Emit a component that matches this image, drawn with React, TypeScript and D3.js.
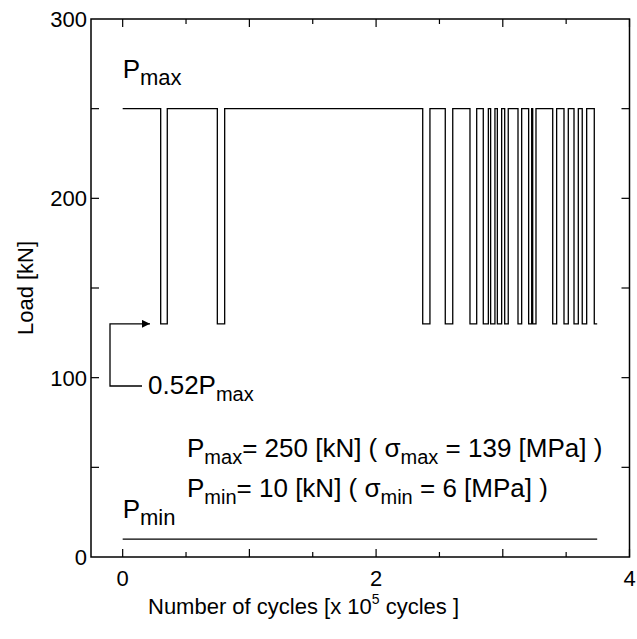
import React from "react";
import * as d3 from "d3";

// Variable-amplitude loading history: constant Pmax blocks with short drops to 0.52·Pmax
const pMax = 250;
const pMin = 10;
const pLow = 130;
const historyStart = 0;
const historyEnd = 3.745;
const finalDrop = 3.722;
const dipStarts = [0.3, 0.747, 2.368, 2.546, 2.741, 2.846, 2.904, 2.957, 3.015, 3.12, 3.204, 3.236, 3.394, 3.483, 3.562, 3.627];
const dipEnds = [0.352, 0.805, 2.425, 2.605, 2.794, 2.886, 2.938, 2.991, 3.043, 3.149, 3.228, 3.262, 3.425, 3.517, 3.596, 3.662];

const xTicksMajor = [0, 1, 2, 3, 4];
const xTickLabels = [0, 2, 4];
const xTicksMinor = [-0.5, 0.5, 1.5, 2.5, 3.5];
const yTicks = [50, 100, 150, 200, 250];
const yTickLabels = [0, 100, 200, 300];

const W = 637;
const H = 639;
const left = 91;
const right = 629.5;
const top = 19;
const bottom = 557;
const FONT = "'Liberation Sans', Arial, sans-serif";

export default function App() {
  const x = d3.scaleLinear().domain([-0.25, 4]).range([left, right]);
  const y = d3.scaleLinear().domain([0, 300]).range([bottom, top]);

  const pts: [number, number][] = [[historyStart, pMax]];
  dipStarts.forEach((a, i) => {
    const b = dipEnds[i];
    pts.push([a, pMax], [a, pLow], [b, pLow], [b, pMax]);
  });
  pts.push([finalDrop, pMax], [finalDrop, pLow], [historyEnd, pLow]);

  const line = d3
    .line<[number, number]>()
    .x((d) => x(d[0]))
    .y((d) => y(d[1]));

  const minLine = line([
    [historyStart, pMin],
    [historyEnd, pMin],
  ]);

  const tickLen = 8;
  const minorLen = 5;

  // bracket arrow pointing at the reduced load level
  const ax = 110;
  const ayTop = y(pLow);
  const ayBot = 386;

  return (
    <svg
      width={W}
      height={H}
      style={{ position: "absolute", left: 0, top: 0, background: "#fff" }}
      fontFamily={FONT}
    >
      <defs>
        <marker id="ah" viewBox="0 0 10 10" refX="10" refY="5" markerWidth="10" markerHeight="8" markerUnits="userSpaceOnUse" orient="auto">
          <path d="M0,0 L10,5 L0,10 z" fill="#000" />
        </marker>
      </defs>

      {/* frame */}
      <rect x={left} y={top} width={right - left} height={bottom - top} fill="none" stroke="#000" strokeWidth={1.5} />

      {/* x ticks, bottom and top */}
      {xTicksMajor.map((t) => (
        <g key={"xm" + t}>
          <line x1={x(t)} x2={x(t)} y1={bottom} y2={bottom - tickLen} stroke="#000" strokeWidth={1.2} />
          <line x1={x(t)} x2={x(t)} y1={top} y2={top + tickLen} stroke="#000" strokeWidth={1.2} />
        </g>
      ))}
      {xTicksMinor
        .filter((t) => x(t) > left && x(t) < right)
        .map((t) => (
          <g key={"xn" + t}>
            <line x1={x(t)} x2={x(t)} y1={bottom} y2={bottom - minorLen} stroke="#000" strokeWidth={1.2} />
            <line x1={x(t)} x2={x(t)} y1={top} y2={top + minorLen} stroke="#000" strokeWidth={1.2} />
          </g>
        ))}
      {xTickLabels.map((t) => (
        <text key={"xl" + t} x={x(t)} y={586} fontSize={22} textAnchor="middle">
          {t}
        </text>
      ))}

      {/* y ticks, left and right */}
      {yTicks.map((t) => (
        <g key={"yt" + t}>
          <line x1={left} x2={left + tickLen} y1={y(t)} y2={y(t)} stroke="#000" strokeWidth={1.2} />
          <line x1={right} x2={right - tickLen} y1={y(t)} y2={y(t)} stroke="#000" strokeWidth={1.2} />
        </g>
      ))}
      {yTickLabels.map((t) => (
        <text key={"yl" + t} x={87} y={y(t) + 8} fontSize={22} textAnchor="end">
          {t}
        </text>
      ))}

      {/* axis titles */}
      <text transform={`translate(33,${(top + bottom) / 2}) rotate(-90)`} fontSize={22} textAnchor="middle">
        Load [kN]
      </text>
      <text x={148} y={614} fontSize={22}>
        Number of cycles [x 10
        <tspan fontSize={14} dy={-10}>5</tspan>
        <tspan dy={10}> cycles ]</tspan>
      </text>

      {/* load history */}
      <path d={line(pts) ?? ""} fill="none" stroke="#000" strokeWidth={1.3} />
      <path d={minLine ?? ""} fill="none" stroke="#000" strokeWidth={1.2} />

      {/* level labels */}
      <text x={x(0)} y={78} fontSize={26}>
        P<tspan fontSize={22} dy={7}>max</tspan>
      </text>
      <text x={x(0)} y={518} fontSize={26}>
        P<tspan fontSize={22} dy={7}>min</tspan>
      </text>

      {/* 0.52 Pmax annotation */}
      <path d={`M${142},${ayBot} L${ax},${ayBot} L${ax},${ayTop} L${150},${ayTop}`} fill="none" stroke="#000" strokeWidth={1.3} markerEnd="url(#ah)" />
      <text x={148} y={394} fontSize={26}>
        0.52P<tspan fontSize={20} dy={7}>max</tspan>
      </text>

      {/* load / stress summary */}
      <text x={187} y={457} fontSize={26}>
        P<tspan fontSize={20} dy={7}>max</tspan>
        <tspan dy={-7}>= 250 [kN] ( σ</tspan>
        <tspan fontSize={20} dy={7}>max</tspan>
        <tspan dy={-7}> = 139 [MPa] )</tspan>
      </text>
      <text x={187} y={497} fontSize={26}>
        P<tspan fontSize={20} dy={7}>min</tspan>
        <tspan dy={-7}>= 10 [kN] ( σ</tspan>
        <tspan fontSize={20} dy={7}>min</tspan>
        <tspan dy={-7}> = 6 [MPa] )</tspan>
      </text>
    </svg>
  );
}
